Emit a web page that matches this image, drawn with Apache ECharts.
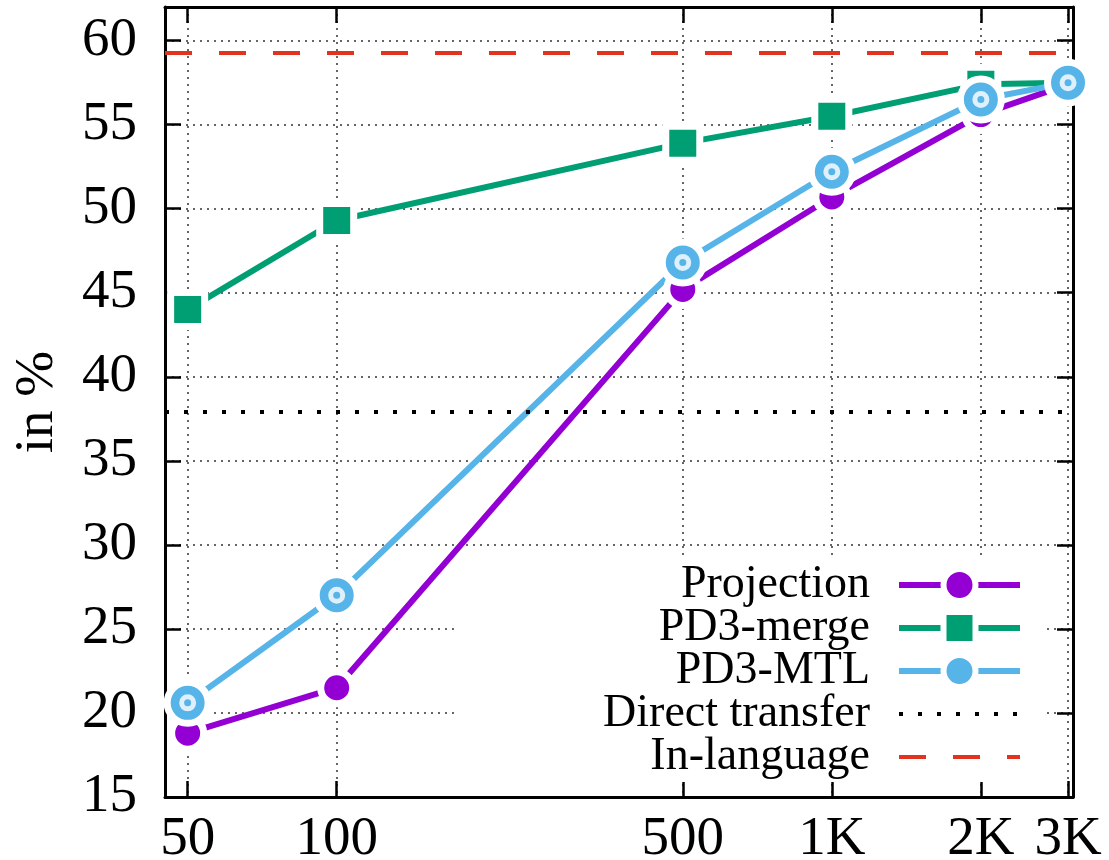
<!DOCTYPE html>
<html>
<head>
<meta charset="utf-8">
<script src="https://cdn.jsdelivr.net/npm/echarts@6/dist/echarts.min.js"></script>
<style>
  html, body { margin: 0; padding: 0; background: #fff; }
  #chart { width: 1109px; height: 860px; }
</style>
</head>
<body>
<div id="chart"></div>
<script>
// training size (log scale on x) and score in %
const sizes = [50, 100, 500, 1000, 2000, 3000];
const sizeLabels = ['50', '100', '500', '1K', '2K', '3K'];
const projection = [18.8, 21.5, 45.2, 50.7, 55.6, 57.4];
const pd3Merge = [44.0, 49.3, 53.9, 55.5, 57.4, 57.5];
const pd3Mtl = [20.6, 27.0, 46.8, 52.2, 56.5, 57.5];
const directTransfer = 37.9;
const inLanguage = 59.3;
const yTicks = [15, 20, 25, 30, 35, 40, 45, 50, 55, 60];
const xRange = [45, 3070];
const yRange = [15, 62];

const FONT = 'Liberation Serif';
const PURPLE = '#9400d3', GREEN = '#009e73', BLUE = '#56b4e9', RED = '#e3321e';

const lg = v => Math.log10(v);
const xTicks = sizes.map(lg);
const toPts = arr => arr.map((v, i) => [lg(sizes[i]), v]);
const xLabel = v => {
  let best = 0;
  xTicks.forEach((t, i) => { if (Math.abs(t - v) < Math.abs(xTicks[best] - v)) best = i; });
  return sizeLabels[best];
};

const frame = { show: true, onZero: false, lineStyle: { color: '#000', width: 3 } };
const grid = { type: [2, 5], color: '#333', width: 1.5 };

const chart = echarts.init(document.getElementById('chart'));
chart.setOption({
  animation: false,
  backgroundColor: '#fff',
  grid: { left: 165, right: 36, top: 7, bottom: 63, outerBoundsMode: 'none' },
  xAxis: [
    {
      type: 'value', min: lg(xRange[0]), max: lg(xRange[1]), position: 'bottom',
      axisLine: frame,
      axisTick: { inside: true, length: 16, customValues: xTicks, lineStyle: { color: '#000', width: 2.5 } },
      axisLabel: { customValues: xTicks, formatter: xLabel, fontFamily: FONT, fontSize: 55, color: '#000', margin: 15 },
      splitLine: { show: true, lineStyle: grid }
    },
    {
      type: 'value', min: lg(xRange[0]), max: lg(xRange[1]), position: 'top',
      axisLine: frame,
      axisTick: { inside: true, length: 16, customValues: xTicks, lineStyle: { color: '#000', width: 2.5 } },
      axisLabel: { show: false },
      splitLine: { show: false }
    }
  ],
  yAxis: [
    {
      type: 'value', min: yRange[0], max: yRange[1], position: 'left',
      axisLine: frame,
      axisTick: { inside: true, length: 16, customValues: yTicks, lineStyle: { color: '#000', width: 2.5 } },
      axisLabel: { customValues: yTicks, fontFamily: FONT, fontSize: 55, color: '#000', margin: 28 },
      splitLine: { show: true, lineStyle: grid },
      name: 'in %', nameLocation: 'middle', nameRotate: 90, nameGap: 100,
      nameTextStyle: { fontFamily: FONT, fontSize: 55, color: '#000' }
    },
    {
      type: 'value', min: yRange[0], max: yRange[1], position: 'right',
      axisLine: frame,
      axisTick: { inside: true, length: 16, customValues: yTicks, lineStyle: { color: '#000', width: 2.5 } },
      axisLabel: { show: false },
      splitLine: { show: false }
    }
  ],
  legend: {
    orient: 'vertical', align: 'right', right: 64, top: 559,
    padding: [3, 22, 2, 146], backgroundColor: '#fff',
    itemWidth: 121, itemHeight: 40, itemGap: -3,
    textStyle: { fontFamily: FONT, fontSize: 46, color: '#000', lineHeight: 40, padding: [0, 24, 0, 0] },
    itemStyle: { borderColor: '#fff', borderWidth: 6 },
    data: [
      { name: 'Projection', lineStyle: { width: 6, type: 'solid' } },
      { name: 'PD3-merge', lineStyle: { width: 6, type: 'solid' } },
      { name: 'PD3-MTL', lineStyle: { width: 6, type: 'solid' } },
      { name: 'Direct transfer', lineStyle: { width: 4, type: [4, 15] }, itemStyle: { opacity: 0 } },
      { name: 'In-language', lineStyle: { width: 4, type: [27, 27] }, itemStyle: { opacity: 0 } }
    ]
  },
  series: [
    {
      name: 'Projection', type: 'line', data: toPts(projection),
      symbol: 'circle', symbolSize: 32, color: PURPLE,
      lineStyle: { color: PURPLE, width: 6 },
      itemStyle: { color: PURPLE, borderColor: '#fff', borderWidth: 7 }
    },
    {
      name: 'PD3-merge', type: 'line', data: toPts(pd3Merge),
      symbol: 'rect', symbolSize: 34, color: GREEN,
      lineStyle: { color: GREEN, width: 6 },
      itemStyle: { color: GREEN, borderColor: '#fff', borderWidth: 7 }
    },
    {
      name: 'PD3-MTL', type: 'line', data: toPts(pd3Mtl),
      symbol: 'circle', symbolSize: 41, color: BLUE,
      lineStyle: { color: BLUE, width: 6 },
      itemStyle: { color: BLUE, borderColor: '#fff', borderWidth: 7 }
    },
    {
      // white ring + centre dot of the PD3-MTL markers
      name: 'mtl-inner', type: 'scatter', data: toPts(pd3Mtl), z: 3,
      symbol: 'circle', symbolSize: 12,
      itemStyle: { color: BLUE, borderColor: '#fff', borderWidth: 5 }
    },
    {
      name: 'Direct transfer', type: 'line', data: [], color: '#000',
      lineStyle: { color: '#000', width: 4, type: [4, 15] },
      markLine: {
        silent: true, symbol: 'none', label: { show: false },
        lineStyle: { color: '#000', width: 4, type: [4, 15] },
        data: [{ yAxis: directTransfer }]
      }
    },
    {
      name: 'In-language', type: 'line', data: [], color: RED,
      lineStyle: { color: RED, width: 4, type: [27, 27] },
      markLine: {
        silent: true, symbol: 'none', label: { show: false },
        lineStyle: { color: RED, width: 4, type: [27, 27] },
        data: [{ yAxis: inLanguage }]
      }
    }
  ]
});
</script>
</body>
</html>
